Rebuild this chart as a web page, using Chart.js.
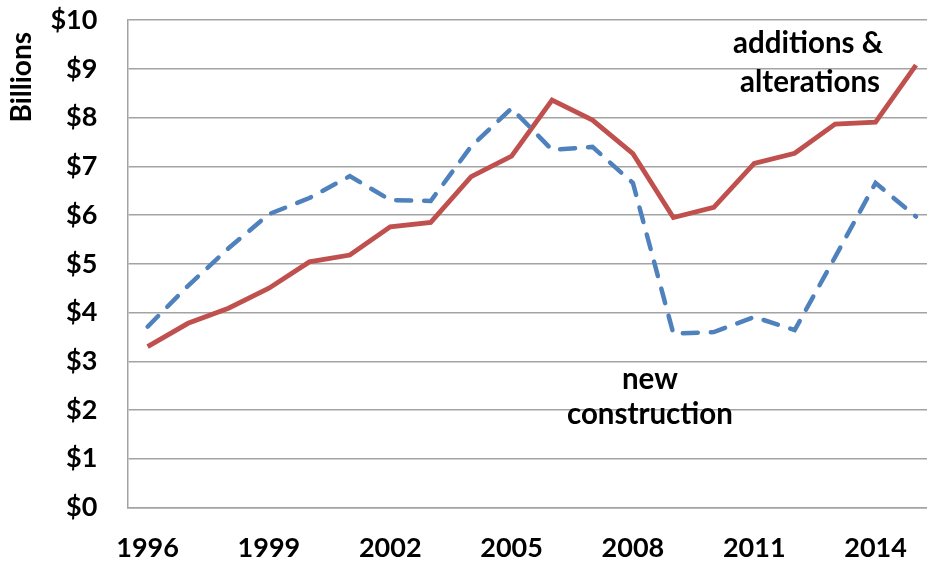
<!DOCTYPE html>
<html>
<head>
<meta charset="utf-8">
<script src="https://cdn.jsdelivr.net/npm/chart.js@4/dist/chart.umd.min.js"></script>
<style>
  html, body { margin: 0; padding: 0; background: #ffffff; overflow: hidden; width: 927px; height: 564px; }
  #wrap { position: absolute; left: 0; top: -26px; width: 941px; height: 590px; }
</style>
</head>
<body>
<div id="wrap"><canvas id="c"></canvas></div>
<script>
const years = ['1996','1997','1998','1999','2000','2001','2002','2003','2004','2005','2006','2007','2008','2009','2010','2011','2012','2013','2014','2015'];
const additionsAlterations = [3.30, 3.78, 4.09, 4.50, 5.04, 5.18, 5.76, 5.85, 6.79, 7.21, 8.36, 7.95, 7.26, 5.95, 6.16, 7.06, 7.27, 7.87, 7.91, 9.08];
const newConstruction = [3.71, 4.55, 5.32, 6.02, 6.35, 6.80, 6.31, 6.29, 7.41, 8.19, 7.34, 7.40, 6.66, 3.57, 3.60, 3.91, 3.64, 5.14, 6.66, 5.97];
const shownYearLabels = ['1996','1999','2002','2005','2008','2011','2014'];
const yTickValues = [0,1,2,3,4,5,6,7,8,9,10];
const axisTitle = 'Billions';
const annotations = [
  { text: 'additions &', x: 16.33, y: 9.53 },
  { text: 'alterations', x: 16.38, y: 8.73 },
  { text: 'new', x: 12.42, y: 2.62 },
  { text: 'construction', x: 12.42, y: 1.90 }
];

const FONT = 'Lato, "Open Sans", sans-serif';
const GRID = '#a3a3a3';

const annotationPlugin = {
  id: 'annotationText',
  afterDatasetsDraw(chart) {
    const ctx = chart.ctx;
    const xs = chart.scales.x, ys = chart.scales.y;
    ctx.save();
    ctx.fillStyle = '#000000';
    ctx.font = 'bold 29.5px ' + FONT;
    ctx.textAlign = 'center';
    ctx.textBaseline = 'middle';
    annotations.forEach(a => {
      ctx.fillText(a.text, xs.getPixelForValue(a.x), ys.getPixelForValue(a.y));
    });
    // rotated axis title near the top of the value axis
    ctx.save();
    ctx.translate(22, ys.getPixelForValue(8.83));
    ctx.rotate(-Math.PI / 2);
    ctx.font = 'bold 28px ' + FONT;
    ctx.fillText(axisTitle, 0, 0);
    ctx.restore();
    ctx.restore();
  }
};

new Chart(document.getElementById('c'), {
  type: 'line',
  data: {
    labels: years,
    datasets: [
      {
        label: 'new construction',
        data: newConstruction,
        borderColor: '#4F81BD',
        borderWidth: 4.5,
        borderDash: [15, 13],
        borderCapStyle: 'round',
        pointRadius: 0,
        tension: 0,
        fill: false
      },
      {
        label: 'additions & alterations',
        data: additionsAlterations,
        borderColor: '#C0504D',
        borderWidth: 4.8,
        borderJoinStyle: 'miter',
        pointRadius: 0,
        tension: 0,
        fill: false
      }
    ]
  },
  options: {
    responsive: true,
    maintainAspectRatio: false,
    animation: false,
    devicePixelRatio: 1,
    layout: { padding: { top: 20, right: 0, bottom: 0, left: 0 } },
    plugins: { legend: { display: false }, tooltip: { enabled: false }, title: { display: false } },
    scales: {
      x: {
        type: 'category',
        offset: true,
        grid: { display: false, drawTicks: false },
        border: { display: true, color: GRID, width: 1.5 },
        ticks: {
          autoSkip: false,
          maxRotation: 0,
          minRotation: 0,
          padding: 25,
          color: '#000000',
          font: { family: FONT, size: 27, weight: 'bold' },
          callback: function(val) {
            const lab = this.getLabelForValue(val);
            return shownYearLabels.includes(lab) ? lab : '';
          }
        },
        afterFit: function(scale) { scale.height = 56.5; }
      },
      y: {
        min: 0,
        max: 10,
        afterBuildTicks: function(scale) { scale.ticks = yTickValues.map(v => ({ value: v })); },
        grid: { display: true, color: GRID, lineWidth: 1.5, drawTicks: false },
        border: { display: true, color: GRID, width: 1.5 },
        ticks: {
          padding: 30,
          color: '#000000',
          font: { family: FONT, size: 27, weight: 'bold' },
          callback: function(v) { return '$' + v; }
        },
        afterFit: function(scale) { scale.width = 127.4; }
      }
    }
  },
  plugins: [annotationPlugin]
});
</script>
</body>
</html>
